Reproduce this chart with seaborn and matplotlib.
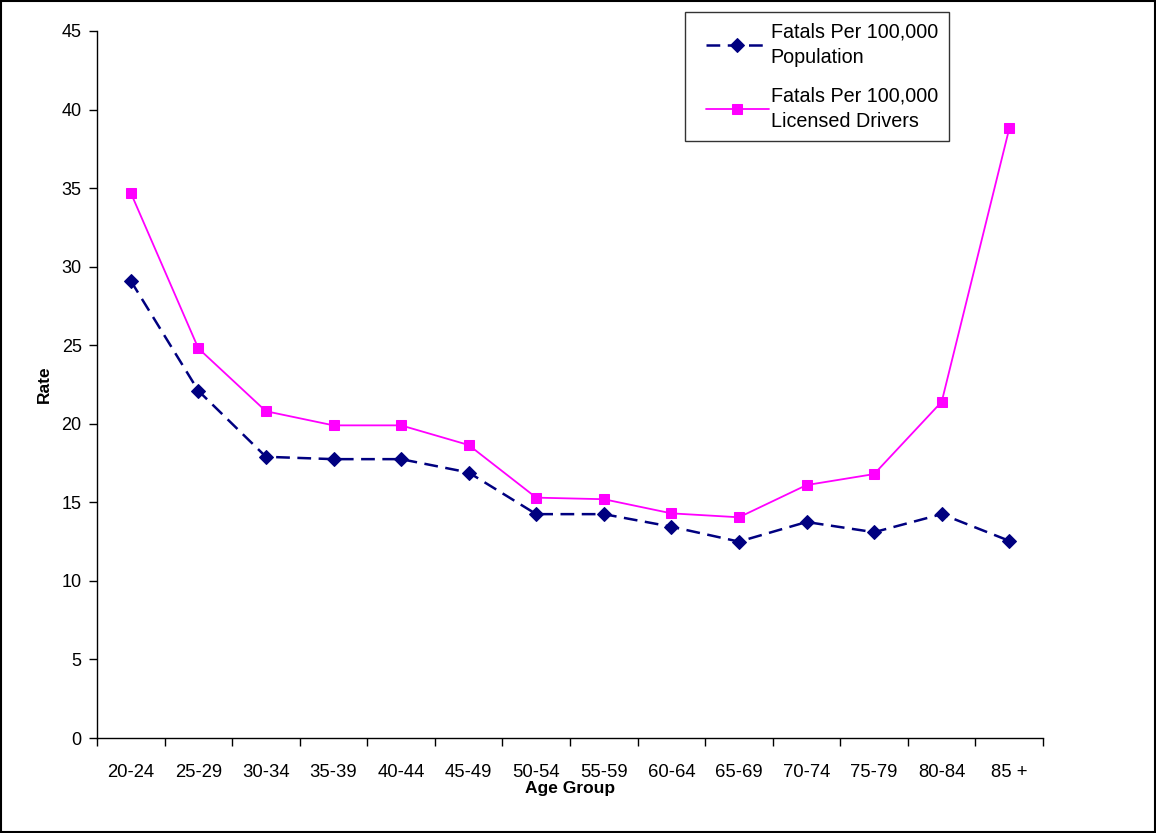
import matplotlib
matplotlib.use("Agg")
import matplotlib.pyplot as plt
import pandas as pd
import seaborn as sns
from matplotlib.legend_handler import HandlerLine2D
from matplotlib.lines import Line2D

age_groups = ["20-24", "25-29", "30-34", "35-39", "40-44", "45-49", "50-54",
              "55-59", "60-64", "65-69", "70-74", "75-79", "80-84", "85 +"]
per_population = [29.1, 22.1, 17.9, 17.75, 17.75, 16.9, 14.25,
                  14.25, 13.45, 12.5, 13.75, 13.1, 14.25, 12.55]
per_licensed = [34.7, 24.8, 20.8, 19.9, 19.9, 18.65, 15.3,
                15.2, 14.3, 14.05, 16.1, 16.8, 21.4, 38.8]

df = pd.DataFrame({"age": age_groups, "pop": per_population, "lic": per_licensed})
df["pos"] = range(len(df))

sns.set_style("white")
plt.rcParams["font.family"] = ["Liberation Sans", "DejaVu Sans"]
plt.rcParams["text.color"] = "black"
plt.rcParams["xtick.color"] = "black"
plt.rcParams["ytick.color"] = "black"
plt.rcParams["axes.labelcolor"] = "black"

fig = plt.figure(figsize=(11.56, 8.33), dpi=100)
ax = fig.add_axes([0.0839, 0.114, 0.8184, 0.8488])

sns.lineplot(data=df, x="pos", y="pop", ax=ax, color="#000080", lw=1.8,
             marker="D", markersize=7.5, markeredgecolor="#000080",
             label="Fatals Per 100,000\nPopulation", sort=False)
ax.lines[-1].set_dashes((5.5, 3))
sns.lineplot(data=df, x="pos", y="lic", ax=ax, color="#FF00FF", lw=1.3,
             marker="s", markersize=7, markeredgecolor="#FF00FF",
             label="Fatals Per 100,000\nLicensed Drivers", sort=False)

ax.set_xlim(-0.5, len(age_groups) - 0.5)
ax.set_ylim(0, 45)
ax.set_yticks(range(0, 46, 5))
ax.set_xticks([i - 0.5 for i in range(len(age_groups) + 1)])
ax.set_xticklabels([])
ax.set_xticks(range(len(age_groups)), minor=True)
ax.set_xticklabels(age_groups, minor=True)
ax.tick_params(axis="x", which="major", bottom=True, direction="out", length=6, width=1)
ax.tick_params(axis="x", which="minor", bottom=True, length=0, pad=19, labelsize=13.3)
ax.tick_params(axis="y", left=True, direction="out", length=6, width=1, labelsize=13, pad=5)

for s in ["top", "right"]:
    ax.spines[s].set_visible(False)
for s in ["left", "bottom"]:
    ax.spines[s].set_color("black")
    ax.spines[s].set_linewidth(1)

ax.set_xlabel("Age Group", fontsize=12.5, fontweight="bold", labelpad=0)
ax.set_ylabel("Rate", fontsize=12.5, fontweight="bold", labelpad=7)

handles, labels = ax.get_legend_handles_labels()
ax.get_legend().remove()
leg = fig.legend(handles, labels, loc="upper left",
                 bbox_to_anchor=(685 / 1156, 1 - 12 / 833), fontsize=14.2,
                 frameon=True, fancybox=False, edgecolor="black", handlelength=3.7,
                 labelspacing=1.0, borderpad=0.55, handletextpad=0.1, borderaxespad=0,
                 handler_map={Line2D: HandlerLine2D(xpad=0.5)})
leg.get_frame().set_linewidth(1)
for t in leg.get_texts():
    t.set_linespacing(1.4)

fig.patches.append(plt.Rectangle((0.001, 0.001), 0.998, 0.998, transform=fig.transFigure,
                                 fill=False, edgecolor="black", linewidth=1.5))

fig.savefig("out.png", dpi=100)
